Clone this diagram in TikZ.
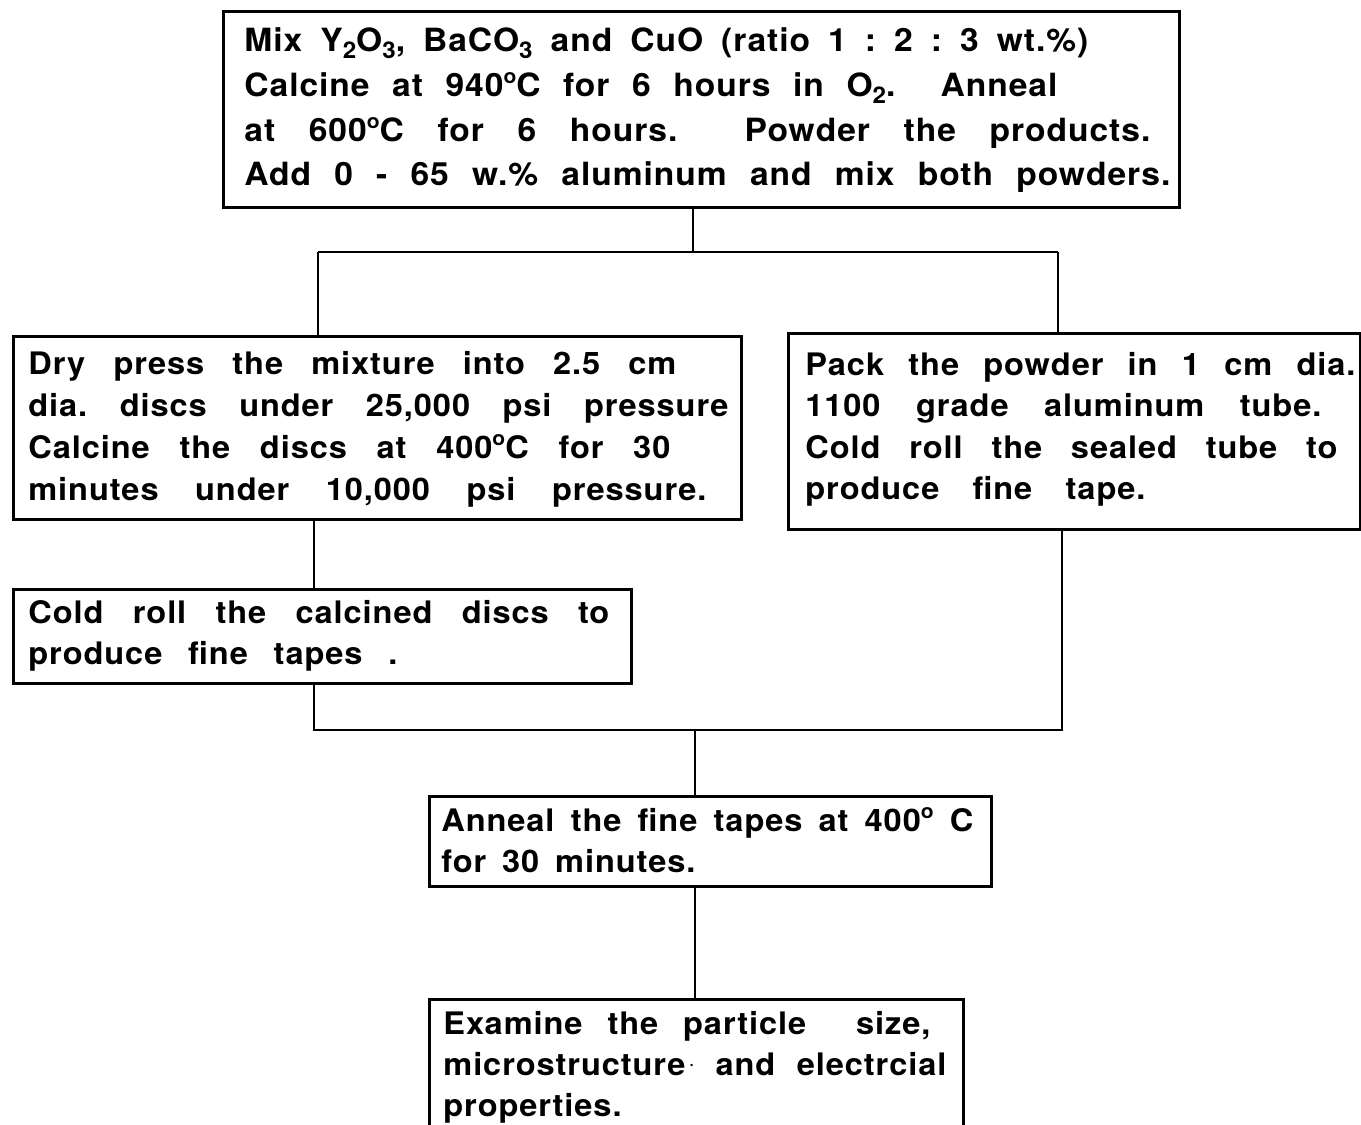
\documentclass[tikz,border=0pt]{standalone}
\usepackage{fontspec}
\setmainfont{TeX Gyre Heros}[LetterSpace=3, FakeStretch=1.05]
\newcommand\dego{\raisebox{0.75ex}{\fontsize{10}{10}\selectfont o}}
\newcommand\subsc[1]{\raisebox{-0.45ex}{\fontsize{11.5}{11.5}\selectfont #1}}
\newcommand\txtline[6]{\node[#1] (#2) at (#3,#4) {\frenchspacing\makebox[\dimexpr #5pt/2\relax][s]{#6}};}
\begin{document}
\begin{tikzpicture}[x=0.5pt, y=-0.5pt,
  box/.style={draw, line width=1.5pt, rectangle, inner sep=0pt, anchor=north west},
  txt/.style={anchor=base west, inner sep=0pt, font=\fontsize{15.5}{18}\selectfont\bfseries},
  bigtxt/.style={txt, font=\fontsize{16}{19}\selectfont\bfseries},
  conn/.style={line width=1.25pt}]
\useasboundingbox (0,0) rectangle (1361,1125);
\clip (0,0) rectangle (1361,1125);

% boxes
\node[box, minimum width=478pt, minimum height=98pt] (top) at (222,10) {};
\node[box, minimum width=364pt, minimum height=91.5pt] (A) at (12,335) {};
\node[box, minimum width=286pt, minimum height=98pt] (B) at (787,332) {};
\node[box, minimum width=309pt, minimum height=47pt] (C) at (12,588) {};
\node[box, minimum width=281pt, minimum height=45pt] (D) at (428,795) {};
\node[box, minimum width=267pt, minimum height=80pt] (E) at (428,998) {};

% texts: top box
\txtline{bigtxt}{t1}{244}{51}{844}{Mix Y\subsc{2}O\subsc{3}, BaCO\subsc{3} and CuO (ratio 1 : 2 : 3 wt.\%)}
\txtline{bigtxt}{t2}{244}{96}{813}{Calcine at 940\dego C for 6 hours in O\subsc{2}.\ \ Anneal}
\txtline{bigtxt}{t3}{244}{141}{906}{at 600\dego C for 6 hours.\ \ Powder the products.}
\txtline{bigtxt}{t4}{244}{185}{926}{Add 0 - 65 w.\% aluminum and mix both powders.}

% box A
\txtline{txt}{a1}{28}{374}{648}{Dry press the mixture into 2.5 cm}
\txtline{txt}{a2}{28}{416}{700}{dia. discs under 25,000 psi pressure}
\txtline{txt}{a3}{28}{458}{642}{Calcine the discs at 400\dego C for 30}
\txtline{txt}{a4}{28}{500}{678}{minutes under 10,000 psi pressure.}

% box B
\txtline{txt}{b1}{805}{375}{550}{Pack the powder in 1 cm dia.}
\txtline{txt}{b2}{805}{416}{516}{1100 grade aluminum tube.}
\txtline{txt}{b3}{805}{458}{532}{Cold roll the sealed tube to}
\txtline{txt}{b4}{805}{499}{340}{produce fine tape.}

% box C
\txtline{txt}{c1}{28}{623}{581}{Cold roll the calcined discs to}
\txtline{txt}{c2}{28}{664}{369}{produce fine tapes .}

% box D
\txtline{txt}{d1}{441}{831}{532}{Anneal the fine tapes at 400\dego\ C}
\txtline{txt}{d2}{441}{872}{254}{for 30 minutes.}

% box E
\txtline{txt}{e1}{443}{1034}{487}{Examine the particle\ \ size,}
\txtline{txt}{e2}{443}{1075}{503}{microstructure\hspace{2pt}\raisebox{0.35ex}{\fontsize{8}{8}\selectfont ·} and electrcial}
\node[txt] (e3) at (443,1116) {properties.};

% connectors
\coordinate (jT) at (693,252);
\coordinate (jL) at (318,252);
\coordinate (jR) at (1058,252);
\coordinate (kL) at (314,730);
\coordinate (kR) at (1062,730);
\coordinate (kM) at (695,730);
\draw[conn] (top.south -| jT) -- (jT);
\draw[conn] (jL) -- (jR);
\draw[conn] (jL) -- (jL |- A.north);
\draw[conn] (jR) -- (jR |- B.north);
\draw[conn] (A.south -| kL) -- (kL |- C.north);
\draw[conn] (C.south -| kL) -- (kL) -- (kR) -- (B.south -| kR);
\draw[conn] (kM) -- (kM |- D.north);
\draw[conn] (D.south -| kM) -- (kM |- E.north);
\end{tikzpicture}
\end{document}
